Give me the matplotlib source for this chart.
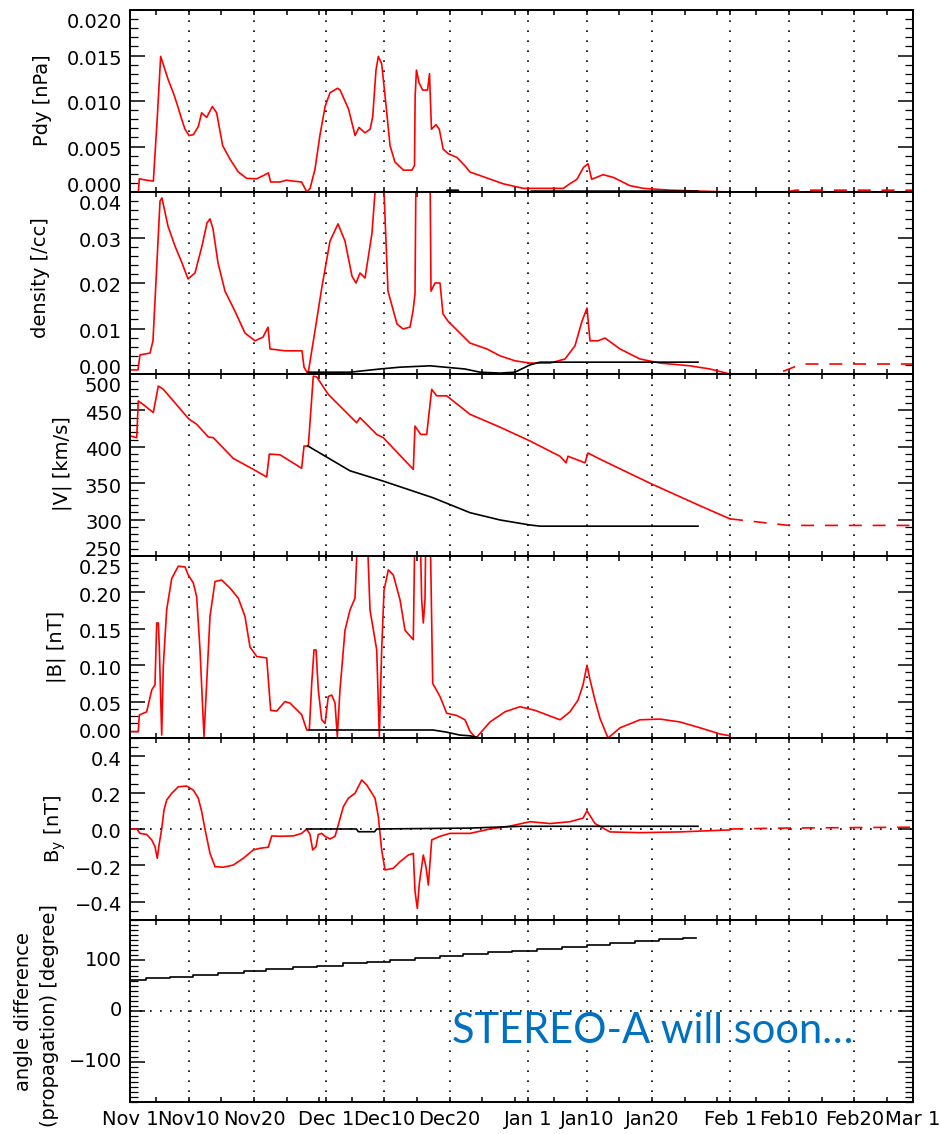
#!/usr/bin/env python
"""Six stacked solar-wind panels (Pdy, density, |V|, |B|, By, angle) Nov 1 - Mar 1."""
import matplotlib
matplotlib.use("Agg")
import matplotlib.pyplot as plt
from matplotlib.ticker import FixedLocator, MultipleLocator, NullFormatter
from matplotlib.transforms import blended_transform_factory, ScaledTranslation

plt.rcParams["font.family"] = ["DejaVu Sans"]
plt.rcParams["axes.unicode_minus"] = True

# ---- Data (x = days since Nov 1) ----------------------------------------------
pdy_days = [0, 1.28, 1.43, 2.5, 3.58, 4.19, 4.70, 5.11, 5.87, 6.64, 7.15, 7.92, 8.43, 9.04,
            9.71, 10.47, 10.98, 11.75, 12.62, 13.28, 14.20, 15.33, 16.60, 17.88, 19.41,
            20.43, 21.2, 21.56, 23.0, 24.0, 25.0, 26.3, 27.1, 27.6, 28.35, 29.1, 29.9,
            30.65, 31.8, 32.2, 33.5, 34.5, 35.1, 36.0, 36.8, 37.2, 37.7, 38.06, 38.57,
            39.2, 39.85, 40.6, 41.9, 43.2, 43.6, 43.7, 43.9, 44.3, 44.85, 45.6, 45.9,
            46.2, 46.9, 47.4, 48.0, 48.8, 50.1, 51.3, 52.1, 57.2, 60.3, 66.4, 67.4, 68.5,
            69.5, 70.2, 70.75, 72.5, 74.1, 76.6, 78.7, 82.8, 92.0]
pdy_red = [0, 0, 0.00145, 0.0013, 0.0012, 0.0083, 0.0149, 0.0140, 0.0123, 0.0109, 0.0098,
           0.0080, 0.0069, 0.0062, 0.0063, 0.0072, 0.0087, 0.0082, 0.0094, 0.0087, 0.0051,
           0.0036, 0.0022, 0.0015, 0.00145, 0.0018, 0.0021, 0.0011, 0.0011, 0.0013, 0.0012,
           0.0011, 0.0, 0.0004, 0.0025, 0.0062, 0.0094, 0.0109, 0.0114, 0.0112, 0.0091,
           0.0062, 0.0071, 0.0065, 0.0069, 0.0083, 0.0134, 0.0149, 0.0141, 0.0098, 0.0051,
           0.0033, 0.0024, 0.0024, 0.0029, 0.0105, 0.0134, 0.0120, 0.0112, 0.0112, 0.0130,
           0.0069, 0.0074, 0.0069, 0.0047, 0.0042, 0.0038, 0.0029, 0.0022, 0.0009, 0.0004,
           0.0004, 0.0009, 0.0014, 0.0027, 0.0031, 0.0014, 0.0019, 0.0016, 0.0007, 0.0004,
           0.0002, 0.0]
pdy_black_days = [27.1, 48.5, 48.6, 50.3, 50.4, 61.3, 61.5, 87.05]
pdy_black = [0.0, 0.0, 0.0002, 0.0002, 0.0, 0.0, 0.0001, 0.0001]
pdy_dash_days = [100.6, 102, 120]
pdy_dash = [0.0, 0.0002, 0.0002]

den_days = [0, 1.23, 1.53, 3.07, 3.52, 4.14, 4.6, 4.9, 5.82, 6.9, 7.97, 8.89, 9.96, 11.03,
            11.8, 12.26, 12.72, 13.49, 14.56, 16.09, 17.62, 19.16, 20.38, 21.15, 21.46,
            23.75, 26.36, 26.67, 27.28, 28.35, 29.43, 30.65, 31.88, 32.95, 34.02, 34.64,
            35.25, 36.02, 37.09, 37.55, 37.7, 38.62, 38.93, 39.54, 40.92, 41.84, 42.91,
            43.37, 43.68, 43.83, 45.98, 46.13, 46.74, 47.51, 47.97, 48.74, 50.57, 52.11,
            54.71, 56.7, 59.0, 61.3, 64.37, 66.67, 68.2, 69.27, 70.04, 70.5, 71.72, 72.8,
            75.1, 78.16, 81.23, 85.82, 88.89, 91.95]
den_red = [0.0009, 0.0009, 0.0042, 0.0046, 0.0073, 0.0248, 0.0380, 0.0387, 0.0325, 0.0281,
           0.0244, 0.0209, 0.0222, 0.0281, 0.0332, 0.0341, 0.0319, 0.0244, 0.0182, 0.0138,
           0.0090, 0.0073, 0.0081, 0.0103, 0.0055, 0.0051, 0.0051, 0.0015, 0.0, 0.0095,
           0.0193, 0.0292, 0.0330, 0.0292, 0.0215, 0.0200, 0.0222, 0.0211, 0.0310, 0.0400,
           0.0450, 0.0450, 0.0400, 0.0182, 0.0110, 0.0099, 0.0103, 0.0138, 0.0176, 0.0450,
           0.0450, 0.0182, 0.0200, 0.0200, 0.0132, 0.0116, 0.0090, 0.0068, 0.0055, 0.0040,
           0.0029, 0.0024, 0.0024, 0.0033, 0.0062, 0.0116, 0.0145, 0.0073, 0.0073, 0.0079,
           0.0055, 0.0033, 0.0024, 0.0018, 0.0011, 0.0]
den_black_days = [27.28, 33.72, 38.31, 41.38, 45.98, 51.34, 53.64, 56.7, 59.0, 61.3, 62.84, 87.05]
den_black = [0.0004, 0.0004, 0.0011, 0.0015, 0.0018, 0.0011, 0.0004, 0.0002, 0.0004, 0.0020,
             0.0026, 0.0026]
den_dash_days = [96.5, 99, 103, 120]
den_dash = [0.0, 0.0, 0.0022, 0.0022]

v_days = [0, 1.03, 1.27, 2.04, 3.57, 4.34, 5.1, 6.64, 9.04, 10.22, 12.0, 12.77, 15.83, 18.9,
          20.95, 21.35, 22.99, 26.31, 26.67, 27.33, 28.09, 28.61, 30.39, 34.74, 35.25, 37.81,
          38.82, 43.42, 43.68, 44.55, 45.47, 46.24, 47.0, 48.54, 52.11, 56.7, 61.3, 65.9,
          66.82, 67.13, 69.73, 70.19, 72.03, 79.69, 87.36, 91.95]
v_red = [415, 412.5, 463, 458, 447, 483.5, 479, 463, 438, 431, 413.5, 412.5, 384, 369, 358.5,
         390, 389, 370.5, 401, 401, 497, 496, 472, 433, 440, 417, 412.5, 369, 428.5, 417, 417,
         479, 470, 470, 444.6, 427, 408, 387, 378, 387, 378, 391.5, 383, 350, 319, 301]
v_black_days = [27.28, 33.72, 38.77, 46.44, 52.11, 56.7, 61.3, 62.84, 87.05]
v_black = [401, 367, 353, 330, 309.5, 299.5, 292.6, 291, 291]
v_dash_days = [91.95, 101, 120]
v_dash = [301, 292, 292]

b_days = [0, 1.27, 1.43, 2.56, 3.33, 3.83, 4.09, 4.34, 4.49, 4.86, 5.1, 5.62, 6.39, 7.4, 8.43,
          8.93, 9.7, 10.22, 10.73, 11.34, 11.75, 12.26, 13.03, 14.05, 15.33, 16.6, 17.62,
          18.39, 19.42, 20.95, 21.56, 22.48, 23.75, 24.52, 26.31, 27.08, 27.48, 27.85, 28.2,
          28.51, 28.86, 29.38, 29.89, 30.39, 30.91, 31.42, 31.77, 32.18, 32.95, 33.72, 34.48,
          34.99, 36.28, 36.78, 37.81, 38.21, 38.57, 38.93, 39.59, 40.35, 41.38, 42.15, 43.42,
          43.68, 44.44, 44.7, 44.95, 45.21, 45.36, 45.98, 46.39, 47.51, 48.54, 50.07, 51.34,
          52.11, 53.03, 55.17, 57.47, 59.77, 62.07, 65.9, 67.43, 68.66, 69.43, 70.04, 70.5,
          71.26, 72.03, 73.26, 75.1, 78.16, 81.23, 84.29, 87.36, 90.42, 91.95]
b_red = [0.0087, 0.0087, 0.0316, 0.036, 0.066, 0.073, 0.158, 0.158, 0.125, 0.004, 0.098,
         0.176, 0.219, 0.236, 0.235, 0.224, 0.213, 0.194, 0.121, 0.002, 0.075, 0.167, 0.215,
         0.217, 0.206, 0.192, 0.167, 0.125, 0.112, 0.110, 0.038, 0.037, 0.050, 0.048, 0.032,
         0.011, 0.011, 0.075, 0.121, 0.121, 0.066, 0.025, 0.020, 0.057, 0.059, 0.048, 0.002,
         0.066, 0.148, 0.176, 0.192, 0.30, 0.30, 0.176, 0.121, 0.002, 0.121, 0.203, 0.231,
         0.224, 0.190, 0.148, 0.135, 0.30, 0.30, 0.190, 0.158, 0.190, 0.30, 0.30, 0.075,
         0.057, 0.034, 0.031, 0.025, 0.009, 0.0, 0.022, 0.036, 0.043, 0.038, 0.025, 0.036,
         0.052, 0.073, 0.100, 0.080, 0.052, 0.027, 0.0, 0.014, 0.025, 0.026, 0.022, 0.014,
         0.0055, 0.003]
b_black_days = [27.48, 46.44, 48.54, 50.57, 52.11, 53.64, 61.0]
b_black = [0.011, 0.011, 0.008, 0.004, 0.003, 0.0, 0.0]

by_days = [0, 1.03, 1.53, 2.56, 3.33, 3.83, 4.18, 4.49, 4.86, 5.21, 5.62, 6.39, 7.4, 8.69,
           9.7, 10.47, 10.99, 11.49, 12.26, 13.03, 14.3, 15.83, 17.36, 18.9, 19.92, 21.2,
           21.72, 22.99, 25.03, 26.31, 27.08, 27.59, 28.0, 28.51, 28.86, 29.38, 29.89, 30.65,
           31.42, 31.92, 32.69, 33.46, 34.48, 35.51, 36.28, 37.55, 38.05, 38.57, 39.08, 40.35,
           41.38, 42.65, 43.42, 43.68, 44.03, 44.34, 44.95, 45.36, 45.72, 46.24, 47.51, 49.04,
           52.11, 55.17, 58.24, 61.3, 64.37, 67.43, 69.43, 70.04, 71.26, 73.56, 78.16, 84.29,
           91.95]
by_red = [0.0, 0.0, -0.024, -0.03, -0.06, -0.097, -0.161, -0.079, 0.0, 0.104, 0.159, 0.196,
          0.232, 0.236, 0.214, 0.169, 0.095, 0.0, -0.134, -0.207, -0.21, -0.198, -0.161,
          -0.115, -0.106, -0.1, -0.038, -0.04, -0.038, -0.024, 0.0, -0.03, -0.115, -0.097,
          -0.03, -0.024, -0.04, -0.055, -0.04, 0.022, 0.122, 0.169, 0.196, 0.269, 0.242,
          0.169, 0.07, -0.115, -0.225, -0.216, -0.18, -0.143, -0.134, -0.344, -0.436, -0.3,
          -0.143, -0.207, -0.308, -0.06, -0.04, -0.024, -0.024, 0.0, 0.016, 0.04, 0.03, 0.04,
          0.06, 0.10, 0.03, -0.016, -0.02, -0.016, -0.005]
by_black_days = [27.08, 34.7, 35.0, 37.5, 37.8, 52.0, 60.0, 87.05]
by_black = [0.0, 0.0, -0.015, -0.015, 0.0, 0.005, 0.015, 0.015]
by_dash_days = [92, 100, 120]
by_dash = [0.0, 0.005, 0.01]

ang_days = [0, 2.5, 6.1, 9.7, 13.5, 17.4, 20.9, 25.0, 28.6, 32.7, 36.3, 39.8, 43.7, 47.5,
            51.1, 54.9, 58.5, 62.3, 66.2, 70.0, 73.6, 77.4, 81.0, 84.8, 86.8]
ang_black = [61, 64.5, 68, 72, 75.5, 79, 83, 86.5, 90, 94, 97.5, 101, 105, 108.5, 112, 116,
             119.5, 123, 127, 130.5, 134, 138, 141.5, 145, 145]

# ---- Axis definitions ----------------------------------------------------------
XT_MAJOR = [0, 9, 19, 30, 39, 49, 61, 70, 80, 92, 101, 111, 120]
XT_LABELS = ["Nov 1", "Nov10", "Nov20", "Dec 1", "Dec10", "Dec20", "Jan 1", "Jan10",
             "Jan20", "Feb 1", "Feb10", "Feb20", "Mar 1"]
XT_MINOR = [4, 14, 24, 29, 34, 44, 54, 59, 65, 75, 85, 90, 96, 106, 116]

PANELS = [
    dict(ylim=(0, 0.020), ticks=[0, 0.005, 0.010, 0.015, 0.020], fmt="{:.3f}", minor=0.001),
    dict(ylim=(0, 0.040), ticks=[0, 0.01, 0.02, 0.03, 0.04], fmt="{:.2f}", minor=0.002),
    dict(ylim=(250, 500), ticks=[250, 300, 350, 400, 450, 500], fmt="{:.0f}", minor=10),
    dict(ylim=(0, 0.25), ticks=[0, 0.05, 0.10, 0.15, 0.20, 0.25], fmt="{:.2f}", minor=0.01),
    dict(ylim=(-0.5, 0.5), ticks=[-0.4, -0.2, 0.0, 0.2, 0.4], fmt="{:.1f}", minor=0.05),
    dict(ylim=(-180, 180), ticks=[-100, 0, 100], fmt="{:.0f}", minor=10),
]

# ---- Geometry (pixels) ---------------------------------------------------------
W, H = 941, 1134
X0, X1 = 130, 913
TOP0, PH = 10, 182
RED = "#FF0000"
FS = 14
DOT = (0, (1, 5))

fig = plt.figure(figsize=(W / 100, H / 100), dpi=100)
axes = []
for i, p in enumerate(PANELS):
    top = TOP0 + i * PH
    ax = fig.add_axes([X0 / W, 1 - (top + PH) / H, (X1 - X0) / W, PH / H])
    ax.set_xlim(0, 120)
    ax.set_ylim(*p["ylim"])
    for s in ax.spines.values():
        s.set_linewidth(1.4)
    ax.xaxis.set_major_locator(FixedLocator(XT_MAJOR))
    ax.xaxis.set_minor_locator(FixedLocator(XT_MINOR))
    ax.yaxis.set_major_locator(FixedLocator(p["ticks"]))
    ax.yaxis.set_minor_locator(MultipleLocator(p["minor"]))
    ax.yaxis.set_major_formatter(NullFormatter())
    ax.tick_params(axis="x", which="both", direction="in", top=True, bottom=True,
                   length=3.6, width=1.1, labelsize=FS, pad=6)
    ax.tick_params(axis="y", which="major", direction="in", left=True, right=True,
                   length=10.8, width=1.1)
    ax.tick_params(axis="y", which="minor", direction="in", left=True, right=True,
                   length=5.6, width=0.9)
    if i < 5:
        ax.set_xticklabels([])
    else:
        ax.set_xticklabels(XT_LABELS)
    for d in XT_MAJOR[1:-1]:
        ax.axvline(d, color="black", lw=1.2, ls=DOT, zorder=1)

    # y tick labels drawn by hand so they can sit slightly off their ticks
    trans = blended_transform_factory(ax.transAxes, ax.transData)
    for t in p["ticks"]:
        if i == 5:
            off = 0
        elif t == p["ylim"][1]:
            off = 12
        elif t == p["ylim"][0]:
            off = -6
        else:
            off = 4
        lab = p["fmt"].format(t).replace("-", "\u2212")
        ax.text(0, t, lab, ha="right", va="center", fontsize=FS, clip_on=False,
                transform=trans + ScaledTranslation(-8 / 100, -off / 100, fig.dpi_scale_trans))
    axes.append(ax)

ax1, ax2, ax3, ax4, ax5, ax6 = axes
LW = 1.2
DASH = (0, (7.8, 6.5))

ax1.plot(pdy_days, pdy_red, color=RED, lw=LW, zorder=2)
ax1.plot(pdy_black_days, pdy_black, color="black", lw=LW, zorder=3)
ax1.plot(pdy_dash_days, pdy_dash, color=RED, lw=LW, ls=DASH, zorder=2)

ax2.plot(den_days, den_red, color=RED, lw=LW, zorder=2)
ax2.plot(den_black_days, den_black, color="black", lw=LW, zorder=3)
ax2.plot(den_dash_days, den_dash, color=RED, lw=LW, ls=DASH, zorder=2)

ax3.plot(v_days, v_red, color=RED, lw=LW, zorder=2)
ax3.plot(v_black_days, v_black, color="black", lw=LW, zorder=3)
ax3.plot(v_dash_days, v_dash, color=RED, lw=LW, ls=DASH, zorder=2)

ax4.plot(b_days, b_red, color=RED, lw=LW, zorder=2)
ax4.plot(b_black_days, b_black, color="black", lw=LW, zorder=3)

ax5.axhline(0, color="black", lw=1.2, ls=DOT, zorder=1)
ax5.plot(by_days, by_red, color=RED, lw=LW, zorder=2)
ax5.plot(by_black_days, by_black, color="black", lw=LW, zorder=3)
ax5.plot(by_dash_days, by_dash, color=RED, lw=LW, ls=DASH, zorder=2)

ax6.axhline(0, color="black", lw=1.2, ls=DOT, zorder=1)
ax6.plot(ang_days, ang_black, color="black", lw=LW, drawstyle="steps-post", zorder=3)

# ---- Y labels (figure pixels) ----------------------------------------------------
def ylab(xp, yp, s):
    fig.text(xp / W, 1 - yp / H, s, rotation=90, ha="center", va="center", fontsize=FS)

ylab(43, 100, "Pdy [nPa]")
ylab(40, 278, "density [/cc]")
ylab(62, 464, "|V| [km/s]")
ylab(56, 647, "|B| [nT]")
ylab(55, 829, r"B$_\mathregular{y}$ [nT]")
ylab(24, 1012, "angle difference")
ylab(50, 1016, "(propagation) [degree]")

# ---- Overlay note -------------------------------------------------------------------
note = fig.text(452 / W, 1 - 1043 / H, "STEREO-A will soon\u2026", color="#0070C0",
                fontsize=30, family=["Lato", "DejaVu Sans"], ha="left", va="baseline")
fig.canvas.draw()
bb = note.get_window_extent()
note.set_fontsize(30 * 401 / bb.width)

fig.savefig("out.png", dpi=100, facecolor="white")
